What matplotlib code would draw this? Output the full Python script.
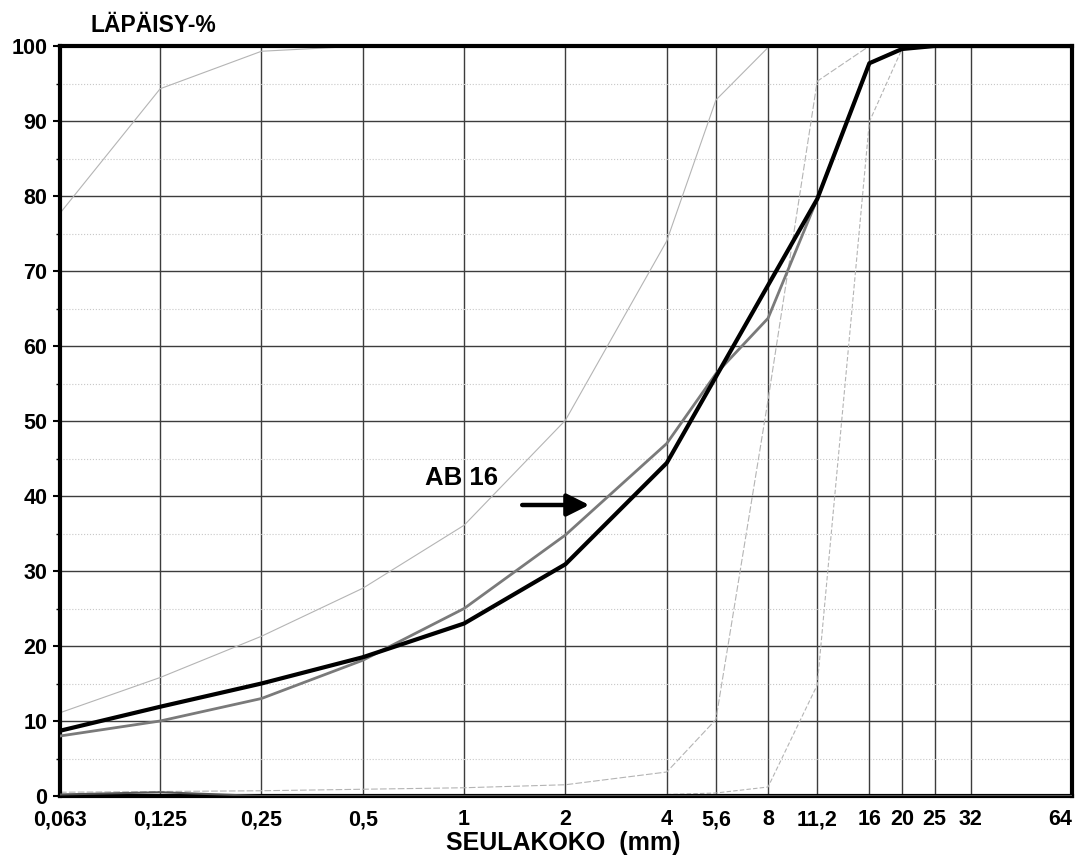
import matplotlib
matplotlib.use('Agg')
import matplotlib.pyplot as plt
import numpy as np

plt.rcParams['font.family'] = ['Liberation Sans', 'DejaVu Sans']
plt.rcParams['font.weight'] = 'bold'

# seulakoot (mm) ja tikkien tekstit
seulat = [0.063, 0.125, 0.25, 0.5, 1, 2, 4, 5.6, 8, 11.2, 16, 20, 25, 32, 64]
seula_tekstit = ['0,063', '0,125', '0,25', '0,5', '1', '2', '4', '5,6', '8',
                 '11,2', '16', '20', '25', '32', '64']

# läpäisy-% käyrät
ab16 = [8.7, 11.9, 15.0, 18.5, 23.0, 30.9, 44.4, 55.9, 68.1, 79.6, 97.7, 99.6, 100, 100, 100]
vertailu = [8.0, 10.0, 13.0, 18.1, 25.0, 34.8, 47.0, 56.3, 63.7, 79.6, 97.7, 99.6, 100, 100, 100]
raja_hieno_ylä = [77.7, 94.3, 99.3, 100, 100, 100, 100, 100, 100, 100, 100, 100, 100, 100, 100]
raja_b = [11.1, 15.8, 21.3, 27.7, 36.1, 50.1, 74.0, 92.8, 99.8, 100, 100, 100, 100, 100, 100]
raja_c = [0.5, 0.6, 0.7, 0.9, 1.1, 1.5, 3.2, 10.2, 52.8, 95.3, 100, 100, 100, 100, 100]
raja_d = [0, 0, 0, 0, 0, 0, 0.2, 0.4, 1.2, 14.8, 89.9, 99.6, 100, 100, 100]
pohja = [0.2, 0.5, 0, 0, 0, 0, 0, 0, 0, 0, 0, 0, 0, 0, 0]

fig = plt.figure(figsize=(10.77, 8.56), dpi=100)
ax = fig.add_axes([60/1077, 60/856, 1012/1077, 750/856])
ax.set_xscale('log', base=2)
ax.set_xlim(0.063, 64)
ax.set_ylim(0, 100)

# ruudukko
for s in seulat[1:-1]:
    ax.axvline(s, color='#3c3c3c', lw=1.0, zorder=1)
for y in range(10, 100, 10):
    ax.axhline(y, color='#3c3c3c', lw=1.0, zorder=1)
for y in range(5, 100, 10):
    ax.axhline(y, color='#c8c8c8', lw=0.8, ls=':', zorder=1)

# käyrät
ax.plot(seulat, raja_hieno_ylä, color='#b4b4b4', lw=0.8, zorder=2)
ax.plot(seulat, raja_b, color='#b4b4b4', lw=0.8, zorder=2)
ax.plot(seulat, raja_c, color='#b4b4b4', lw=0.8, ls=(0, (6, 2)), zorder=2)
ax.plot(seulat, raja_d, color='#b4b4b4', lw=0.8, ls=(0, (4, 2)), zorder=2)
ax.plot(seulat, pohja, color='#555555', lw=1.5, zorder=3)
ax.plot(seulat, vertailu, color='#7a7a7a', lw=2.0, zorder=3)
ax.plot(seulat, ab16, color='black', lw=3.0, zorder=4)

# AB 16 merkintä
ax.text(0.98, 42.4, 'AB 16', fontsize=18.5, fontweight='bold', ha='center', va='center')
ax.annotate('', xy=(2.4, 38.8), xytext=(1.46, 38.8),
            arrowprops=dict(arrowstyle='-|>', lw=3.2, color='black', mutation_scale=34))

# akselit
ax.set_xticks(seulat)
ax.set_xticklabels(seula_tekstit)
ax.xaxis.set_minor_locator(matplotlib.ticker.NullLocator())
ax.set_yticks(range(0, 101, 10))
ax.set_yticks(range(5, 100, 10), minor=True)
ax.tick_params(axis='x', length=0, pad=9.5, labelsize=15.5)
ax.tick_params(axis='y', which='major', length=5, width=1.5, pad=4, labelsize=15.5)
ax.tick_params(axis='y', which='minor', length=3, width=1)
ax.get_xticklabels()[-1].set_ha('right')
for lab in ax.get_xticklabels() + ax.get_yticklabels():
    lab.set_fontweight('bold')
for sp in ax.spines.values():
    sp.set_linewidth(3)

fig.text(90/1077, 1 - 25/856, 'LÄPÄISY-%', fontsize=16.5, fontweight='bold', ha='left', va='center')
fig.text(563/1077, 1 - 850/856, 'SEULAKOKO  (mm)', fontsize=18, fontweight='bold', ha='center', va='baseline')

fig.savefig('out.png', dpi=100)
